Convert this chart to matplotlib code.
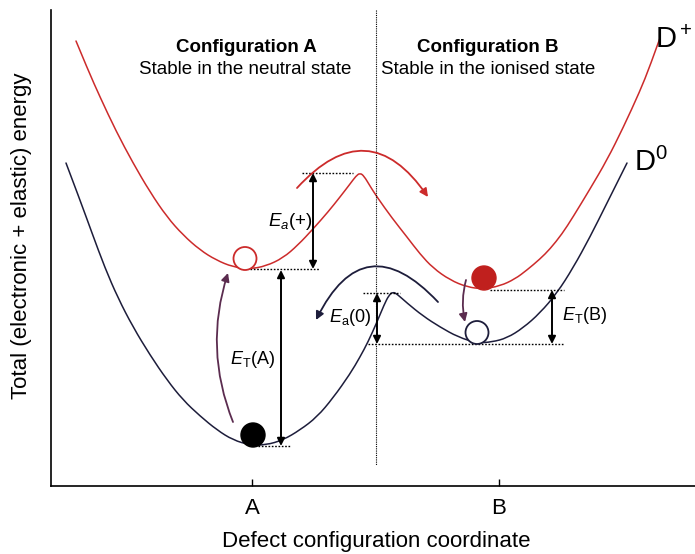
import matplotlib
matplotlib.use("Agg")
import matplotlib.pyplot as plt
from matplotlib.patches import Circle, PathPatch
from matplotlib.path import Path

plt.rcParams['font.family'] = ['Liberation Sans', 'DejaVu Sans']
plt.rcParams['mathtext.fontset'] = 'custom'
plt.rcParams['mathtext.rm'] = 'Liberation Sans'
plt.rcParams['mathtext.it'] = 'Liberation Sans:italic'

# D+ (ionised) curve (pixel units, y downwards)
red_x = [76, 88, 100, 116, 133, 150, 167, 183, 200, 216, 233, 250, 266, 283, 298,
         313, 328, 340, 350, 356, 360, 364, 370, 377, 392, 407, 420, 433, 450, 467,
         483, 500, 515, 527, 540, 550, 562, 573, 590, 607, 623, 640, 650, 660]
red_y = [41, 70, 97, 131, 163, 192, 217, 235, 250, 260, 267, 269, 266, 258, 245,
         229, 212, 197, 184, 176, 173, 176, 186, 197, 218, 237, 254, 268, 280, 287,
         289, 286, 279, 270, 259, 249, 234, 217, 189, 160, 128, 91, 66, 38]

# D0 (neutral) curve
black_x = [66, 80, 92, 105, 118, 133, 150, 167, 183, 200, 217, 233, 250, 266, 283,
           300, 317, 333, 350, 360, 368, 377, 384, 389, 393, 397, 407, 423, 440, 458,
           477, 492, 507, 523, 540, 557, 573, 590, 607, 627]
black_y = [163, 200, 233, 268, 298, 327, 355, 380, 400, 416, 430, 440, 445, 445, 440,
           430, 417, 398, 374, 357, 342, 322, 305, 295, 292, 294, 303, 316, 327, 337,
           343, 342, 338, 328, 313, 293, 268, 237, 203, 163]

tick_pos = [252, 499]
tick_labels = ['A', 'B']

RED = '#cc2b2b'
NAVY = '#1d1d3b'
PURPLE = '#5b2c4f'


# smooth curve through the read points (quadratic pieces between midpoints)
def smooth_curve(ax, xs, ys, color, lw=1.1):
    pts = list(zip(xs, ys))
    verts = [pts[0]]
    codes = [Path.MOVETO]
    for i in range(1, len(pts) - 1):
        if i == len(pts) - 2:
            end = pts[-1]
        else:
            end = ((pts[i][0] + pts[i + 1][0]) / 2, (pts[i][1] + pts[i + 1][1]) / 2)
        verts += [pts[i], end]
        codes += [Path.CURVE3, Path.CURVE3]
    ax.add_patch(PathPatch(Path(verts, codes), facecolor='none', edgecolor=color,
                           lw=lw, capstyle='round'))


fig = plt.figure(figsize=(6.95, 5.54), dpi=100)
W, H = 695, 554
ax = fig.add_axes([51 / W, (H - 486) / H, (W - 51) / W, (486 - 10) / H])
ax.set_xlim(51, 695)
ax.set_ylim(486, 10)

smooth_curve(ax, red_x, red_y, RED)
smooth_curve(ax, black_x, black_y, NAVY)

# divider between the two configurations
ax.plot([376, 376], [10, 465], color='black', lw=0.8, ls=(0, (1, 1)))

# dotted reference levels
dot = dict(color='black', lw=1.0, ls=(0, (1.2, 1.2)))
ax.plot([302, 353], [173, 173], **dot)
ax.plot([250, 320], [269, 269], **dot)
ax.plot([258, 290], [446, 446], **dot)
ax.plot([363, 400], [293, 293], **dot)
ax.plot([368, 564], [344, 344], **dot)
ax.plot([490, 564], [290, 290], **dot)


# energy double arrows
def span(x, y0, y1):
    ax.annotate('', xy=(x, y0), xytext=(x, y1),
                arrowprops=dict(arrowstyle='<|-|>', color='black', lw=1.4,
                                mutation_scale=11, shrinkA=0, shrinkB=0))


span(313, 173, 269)
span(281, 270, 446)
span(377, 293, 344)
span(552, 290, 344)


# curved transition arrows
def arc(p0, p1, rad, color, lw=1.3):
    ax.annotate('', xy=p1, xytext=p0,
                arrowprops=dict(arrowstyle='-|>', color=color, lw=lw,
                                mutation_scale=12, shrinkA=0, shrinkB=0,
                                connectionstyle='arc3,rad=%.2f' % rad))


arc((297, 188), (428, 197), -0.63, RED)
arc((438, 302), (316, 320), 0.72, NAVY)
arc((233, 422), (228, 273), -0.18, PURPLE)
arc((466, 280), (465, 322), 0.12, PURPLE)

# balls
ax.add_patch(Circle((245, 258.5), 11.5, facecolor='white', edgecolor=RED, lw=1.3, zorder=4))
ax.add_patch(Circle((253, 435), 12, facecolor='black', edgecolor='black', zorder=4))
ax.add_patch(Circle((484, 278), 12, facecolor='#c0201e', edgecolor='#c0201e', zorder=4))
ax.add_patch(Circle((477, 332.5), 11.5, facecolor='white', edgecolor=NAVY, lw=1.3, zorder=4))

# energy labels
ax.text(290, 222, r'$E_a$(+)', fontsize=13.5, ha='center', va='center')
ax.text(253, 359, r'$E_\mathrm{T}$(A)', fontsize=13, ha='center', va='center')
ax.text(350, 318, r'$E_\mathrm{a}$(0)', fontsize=13, ha='center', va='center')
ax.text(585, 316, r'$E_\mathrm{T}$(B)', fontsize=13, ha='center', va='center')

# headers
ax.text(246, 48, 'Configuration A', fontsize=13.5, fontweight='bold', ha='center', va='center')
ax.text(245, 70, 'Stable in the neutral state', fontsize=13.5, ha='center', va='center')
ax.text(488, 48, 'Configuration B', fontsize=13.5, fontweight='bold', ha='center', va='center')
ax.text(488, 70, 'Stable in the ionised state', fontsize=13.5, ha='center', va='center')

# curve names
ax.text(634, 171, r'D$^0$', fontsize=21, ha='left', va='baseline')
ax.text(655, 48, r'D$^+$', fontsize=21, ha='left', va='baseline', clip_on=False)

for s in ['top', 'right']:
    ax.spines[s].set_visible(False)
ax.spines['left'].set_linewidth(1.2)
ax.spines['bottom'].set_linewidth(1.2)
ax.set_yticks([])
ax.set_xticks(tick_pos)
ax.set_xticklabels(tick_labels, fontsize=16)
ax.tick_params(axis='x', direction='in', length=5, width=1, pad=9)

fig.text(376 / W, 1 - 541 / H, 'Defect configuration coordinate', fontsize=16,
         ha='center', va='center')
fig.text(22 / W, 1 - 236 / H, 'Total (electronic + elastic) energy', fontsize=16,
         rotation=90, ha='center', va='center')

fig.savefig('out.png', dpi=100)
